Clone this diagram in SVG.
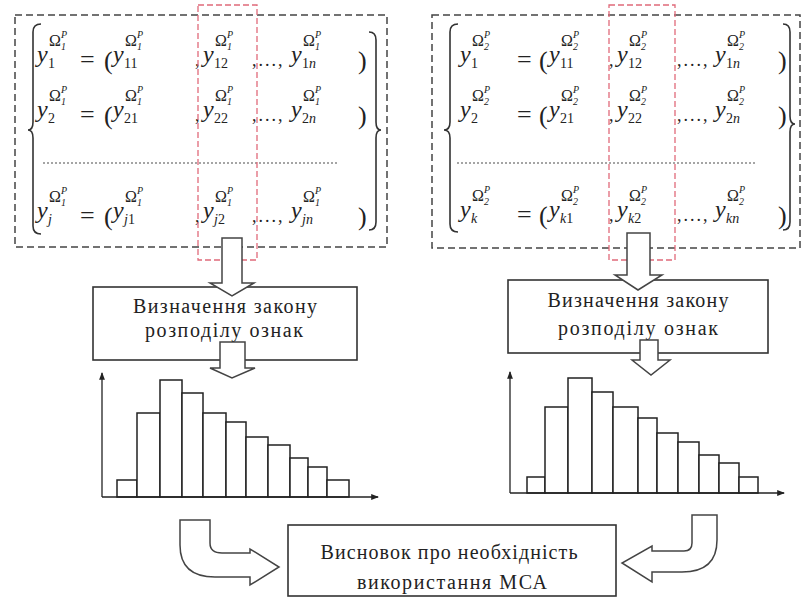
<svg xmlns="http://www.w3.org/2000/svg" width="802" height="598" viewBox="0 0 802 598">
<style>
.dash{fill:none;stroke:#444;stroke-width:1.5;stroke-dasharray:7,4}
.red{fill:none;stroke:#e06a7a;stroke-width:1.3;stroke-dasharray:6,3}
.dot{stroke:#888;stroke-width:1.5;stroke-dasharray:2,2}
.br{fill:none;stroke:#333;stroke-width:1.6}
.m{font-family:"Liberation Serif",serif;font-style:italic;font-size:24px;fill:#222}
.s{font-family:"Liberation Serif",serif;font-size:14px;fill:#222}
.si{font-style:italic}
.p{font-family:"Liberation Serif",serif;font-size:26px;fill:#222}
.c{font-family:"Liberation Serif",serif;font-size:18px;fill:#222;letter-spacing:2px}
.om{font-family:"Liberation Serif",serif;font-size:16px;fill:#222}
.ot{font-family:"Liberation Serif",serif;font-style:italic;font-size:10px;fill:#222}
.box{fill:#fff;stroke:#333;stroke-width:1.6}
.t{font-family:"Liberation Serif",serif;font-size:20px;fill:#222;text-anchor:middle}
.bar{fill:#fff;stroke:#222;stroke-width:1.5}
.ax{stroke:#222;stroke-width:1.3;fill:none}
.arr{fill:#fff;stroke:#444;stroke-width:1.5;stroke-linejoin:miter}
</style>
<defs>
<g id="sL"><text class="om" x="0" y="0">Ω</text><text class="ot" x="12" y="4">1</text><text class="ot" x="12" y="-8">P</text></g>
<g id="sR"><text class="om" x="0" y="0">Ω</text><text class="ot" x="12" y="4">2</text><text class="ot" x="12" y="-8">P</text></g>
<marker id="ah" viewBox="0 0 8 8" refX="7" refY="4" markerWidth="6" markerHeight="6" orient="auto"><path d="M0,1 L8,4 L0,7 Z" fill="#222"/></marker>
</defs>

<g id="formulas-left">
<rect class="dash" x="15" y="15" width="372" height="232"/>
<path class="br" d="M41,24 Q33,24 33,32 L33,122 Q33,130 28,130 Q33,130 33,138 L33,226 Q33,234 41,234"/>
<path class="br" d="M369,32 Q376,32 376,40 L376,122 Q376,130 381,130 Q376,130 376,138 L376,222 Q376,230 369,230"/>
<line class="dot" x1="43" y1="163" x2="337" y2="163"/>
<g>
<text class="m" x="37" y="62">y</text><text class="s" x="48" y="68">1</text><use href="#sL" x="49" y="46"/>
<text class="p" x="80" y="68">=</text><text class="p" x="104" y="69">(</text>
<text class="m" x="113" y="62">y</text><text class="s" x="124" y="68">11</text><use href="#sL" x="125" y="46"/>
<text class="c" x="195" y="66">,</text>
<text class="m" x="203" y="62">y</text><text class="s" x="214" y="68">12</text><use href="#sL" x="215" y="46"/>
<text class="c" x="252" y="66">,...,</text>
<text class="m" x="291" y="62">y</text><text class="s" x="302" y="68">1<tspan class="si">n</tspan></text><use href="#sL" x="303" y="46"/>
<text class="p" x="358" y="69">)</text>
</g>
<g>
<text class="m" x="37" y="117">y</text><text class="s" x="48" y="123">2</text><use href="#sL" x="49" y="101"/>
<text class="p" x="80" y="123">=</text><text class="p" x="104" y="124">(</text>
<text class="m" x="113" y="117">y</text><text class="s" x="124" y="123">21</text><use href="#sL" x="125" y="101"/>
<text class="c" x="195" y="121">,</text>
<text class="m" x="203" y="117">y</text><text class="s" x="214" y="123">22</text><use href="#sL" x="215" y="101"/>
<text class="c" x="252" y="121">,...,</text>
<text class="m" x="291" y="117">y</text><text class="s" x="302" y="123">2<tspan class="si">n</tspan></text><use href="#sL" x="303" y="101"/>
<text class="p" x="358" y="124">)</text>
</g>
<g>
<text class="m" x="37" y="218">y</text><text class="s si" x="48" y="224">j</text><use href="#sL" x="49" y="202"/>
<text class="p" x="80" y="224">=</text><text class="p" x="104" y="225">(</text>
<text class="m" x="113" y="218">y</text><text class="s" x="124" y="224"><tspan class="si">j</tspan>1</text><use href="#sL" x="125" y="202"/>
<text class="c" x="195" y="222">,</text>
<text class="m" x="203" y="218">y</text><text class="s" x="214" y="224"><tspan class="si">j</tspan>2</text><use href="#sL" x="215" y="202"/>
<text class="c" x="252" y="222">,...,</text>
<text class="m" x="291" y="218">y</text><text class="s si" x="302" y="224">jn</text><use href="#sL" x="303" y="202"/>
<text class="p" x="358" y="225">)</text>
</g>
</g>

<g id="formulas-right">
<rect class="dash" x="432" y="15" width="368" height="233"/>
<path class="br" d="M458,24 Q450,24 450,32 L450,122 Q450,130 444,130 Q450,130 450,138 L450,224 Q450,232 458,232"/>
<path class="br" d="M783,24 Q790,24 790,32 L790,116 Q790,124 795,124 Q790,124 790,132 L790,222 Q790,230 783,230"/>
<line class="dot" x1="457" y1="163" x2="757" y2="163"/>
<g>
<text class="m" x="460" y="62">y</text><text class="s" x="471" y="68">1</text><use href="#sR" x="472" y="46"/>
<text class="p" x="517" y="68">=</text><text class="p" x="539" y="69">(</text>
<text class="m" x="549" y="62">y</text><text class="s" x="560" y="68">11</text><use href="#sR" x="561" y="46"/>
<text class="c" x="609" y="66">,</text>
<text class="m" x="617" y="62">y</text><text class="s" x="628" y="68">12</text><use href="#sR" x="629" y="46"/>
<text class="c" x="677" y="66">,...,</text>
<text class="m" x="715" y="62">y</text><text class="s" x="726" y="68">1<tspan class="si">n</tspan></text><use href="#sR" x="727" y="46"/>
<text class="p" x="778" y="69">)</text>
</g>
<g>
<text class="m" x="460" y="117">y</text><text class="s" x="471" y="123">2</text><use href="#sR" x="472" y="101"/>
<text class="p" x="517" y="123">=</text><text class="p" x="539" y="124">(</text>
<text class="m" x="549" y="117">y</text><text class="s" x="560" y="123">21</text><use href="#sR" x="561" y="101"/>
<text class="c" x="609" y="121">,</text>
<text class="m" x="617" y="117">y</text><text class="s" x="628" y="123">22</text><use href="#sR" x="629" y="101"/>
<text class="c" x="677" y="121">,...,</text>
<text class="m" x="715" y="117">y</text><text class="s" x="726" y="123">2<tspan class="si">n</tspan></text><use href="#sR" x="727" y="101"/>
<text class="p" x="778" y="124">)</text>
</g>
<g>
<text class="m" x="460" y="217">y</text><text class="s si" x="471" y="223">k</text><use href="#sR" x="472" y="201"/>
<text class="p" x="517" y="223">=</text><text class="p" x="539" y="224">(</text>
<text class="m" x="549" y="217">y</text><text class="s" x="560" y="223"><tspan class="si">k</tspan>1</text><use href="#sR" x="561" y="201"/>
<text class="c" x="609" y="221">,</text>
<text class="m" x="617" y="217">y</text><text class="s" x="628" y="223"><tspan class="si">k</tspan>2</text><use href="#sR" x="629" y="201"/>
<text class="c" x="677" y="221">,...,</text>
<text class="m" x="715" y="217">y</text><text class="s si" x="726" y="223">kn</text><use href="#sR" x="727" y="201"/>
<text class="p" x="778" y="224">)</text>
</g>
</g>

<g id="highlight-left"><rect class="red" x="198" y="5" width="59" height="255"/></g>
<g id="highlight-right"><rect class="red" x="609" y="5" width="66" height="255"/></g>

<g id="law-left">
<rect class="box" x="93" y="287" width="264" height="73"/>
<text class="t" x="225" y="313" textLength="184" lengthAdjust="spacing">Визначення закону</text>
<text class="t" x="224" y="337" textLength="158" lengthAdjust="spacing">розподілу ознак</text>
</g>
<g id="law-right">
<rect class="box" x="508" y="280" width="260" height="73"/>
<text class="t" x="638" y="307" textLength="181" lengthAdjust="spacing">Визначення закону</text>
<text class="t" x="638" y="335" textLength="160" lengthAdjust="spacing">розподілу ознак</text>
</g>

<g id="histogram-left">
<rect class="bar" x="117" y="480" width="20" height="17"/>
<rect class="bar" x="137" y="413" width="23" height="84"/>
<rect class="bar" x="160" y="380" width="22" height="117"/>
<rect class="bar" x="182" y="393" width="21" height="104"/>
<rect class="bar" x="203" y="413" width="23" height="84"/>
<rect class="bar" x="226" y="422" width="20" height="75"/>
<rect class="bar" x="246" y="437" width="22" height="60"/>
<rect class="bar" x="268" y="445" width="22" height="52"/>
<rect class="bar" x="290" y="458" width="18" height="39"/>
<rect class="bar" x="308" y="467" width="19" height="30"/>
<rect class="bar" x="327" y="480" width="22" height="17"/>
<line class="ax" x1="102" y1="497" x2="102" y2="373" marker-end="url(#ah)"/>
<line class="ax" x1="102" y1="497" x2="378" y2="497" marker-end="url(#ah)"/>
</g>
<g id="histogram-right">
<rect class="bar" x="527" y="477" width="18" height="16"/>
<rect class="bar" x="545" y="407" width="23" height="86"/>
<rect class="bar" x="568" y="378" width="24" height="115"/>
<rect class="bar" x="592" y="392" width="21" height="101"/>
<rect class="bar" x="613" y="407" width="25" height="86"/>
<rect class="bar" x="638" y="418" width="19" height="75"/>
<rect class="bar" x="657" y="433" width="21" height="60"/>
<rect class="bar" x="678" y="442" width="21" height="51"/>
<rect class="bar" x="699" y="455" width="20" height="38"/>
<rect class="bar" x="719" y="463" width="20" height="30"/>
<rect class="bar" x="739" y="477" width="19" height="16"/>
<line class="ax" x1="510" y1="493" x2="510" y2="372" marker-end="url(#ah)"/>
<line class="ax" x1="510" y1="493" x2="784" y2="493" marker-end="url(#ah)"/>
</g>

<g id="conclusion">
<rect class="box" x="288" y="525" width="328" height="71"/>
<text class="t" x="449" y="559" textLength="257" lengthAdjust="spacing">Висновок про необхідність</text>
<text class="t" x="452" y="589" textLength="190" lengthAdjust="spacing">використання МСА</text>
</g>

<g id="connectors">
<path class="arr" d="M222,238 H242 V283 H254 L232,296 L210,283 H222 Z"/>
<path class="arr" d="M220,342 H245 V368 H255 L232,378 L210,368 H220 Z"/>
<path class="arr" d="M627,233 H650 V275 H662 L638,290 L615,275 H627 Z"/>
<path class="arr" d="M640,340 H658 V360 H670 L651,375 L632,360 H640 Z"/>
<path class="arr" d="M180,520 H210 V543 Q210,553 222,553 H250 V549 L279,567 L250,585 V577 H215 Q180,577 180,545 Z"/>
<path class="arr" d="M692,515 H717 V540 Q717,572 682,572 H652 V582 L622,563 L652,546 V551 H684 Q692,551 692,543 Z"/>
</g>
</svg>
